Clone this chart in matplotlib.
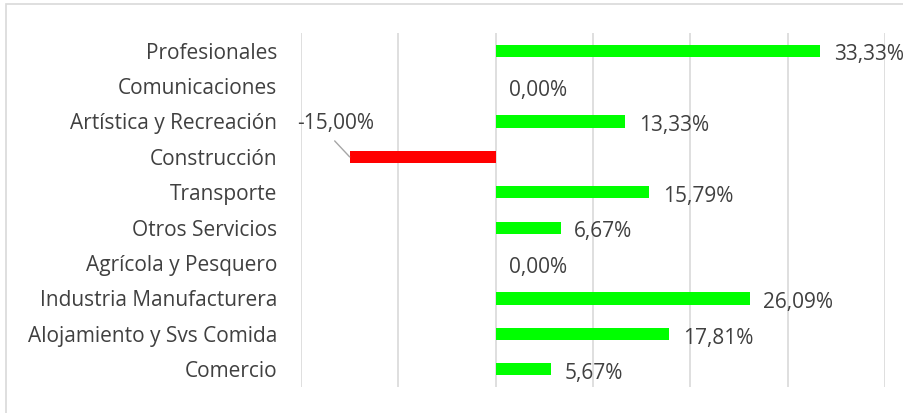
import matplotlib.pyplot as plt
from matplotlib.patches import Rectangle

categories = ["Profesionales", "Comunicaciones", "Artística y Recreación", "Construcción",
              "Transporte", "Otros Servicios", "Agrícola y Pesquero",
              "Industria Manufacturera", "Alojamiento y Svs Comida", "Comercio"]
values = [33.33, 0.00, 13.33, -15.00, 15.79, 6.67, 0.00, 26.09, 17.81, 5.67]

W, H = 904, 413
fig = plt.figure(figsize=(W / 100, H / 100), dpi=100)
plt.rcParams['font.family'] = ['Open Sans', 'DejaVu Sans']
FS = 15

# light border around the chart area
fig.patches.append(Rectangle((6 / W, -0.05), 1.0, (H - 4) / H + 0.05, transform=fig.transFigure,
                             fill=False, edgecolor='#d9d9d9', linewidth=1.2))

ax = fig.add_axes([301 / W, (H - 387) / H, (885 - 301) / W, (387 - 33) / H])
ypos = list(range(len(categories)))
colors = ['#ff0000' if v < 0 else '#00ff00' for v in values]
ax.barh(ypos, values, height=0.34, color=colors, zorder=3)
ax.set_xlim(-20, 40)
ax.set_ylim(len(categories) - 0.5, -0.5)
ax.set_xticks(range(-20, 41, 10))
ax.xaxis.grid(True, color='#d9d9d9', linewidth=1.2)
ax.tick_params(axis='x', length=0, labelbottom=False)
ax.tick_params(axis='y', length=0, pad=17)
ax.set_yticks(ypos)
ax.set_yticklabels(categories, fontsize=FS, color='#404040')
for s in ax.spines.values():
    s.set_visible(False)

for y, v in zip(ypos, values):
    txt = f"{v:.2f}%".replace('.', ',')
    if v < 0:
        # label moved up-left with a leader line, as in the original
        ax.annotate('', xy=(v, y), xytext=(-15, 16), textcoords='offset pixels',
                    arrowprops=dict(arrowstyle='-', color='#a6a6a6', lw=1,
                                    shrinkA=0, shrinkB=0))
        ax.annotate(txt, xy=(v, y), xytext=(-14, 33), textcoords='offset pixels',
                    fontsize=FS, color='#404040', ha='center', va='center')
    else:
        ax.text(v + 1.4, y + 0.12, txt, fontsize=FS, color='#404040', ha='left', va='center')

fig.savefig('out.png', dpi=100)
